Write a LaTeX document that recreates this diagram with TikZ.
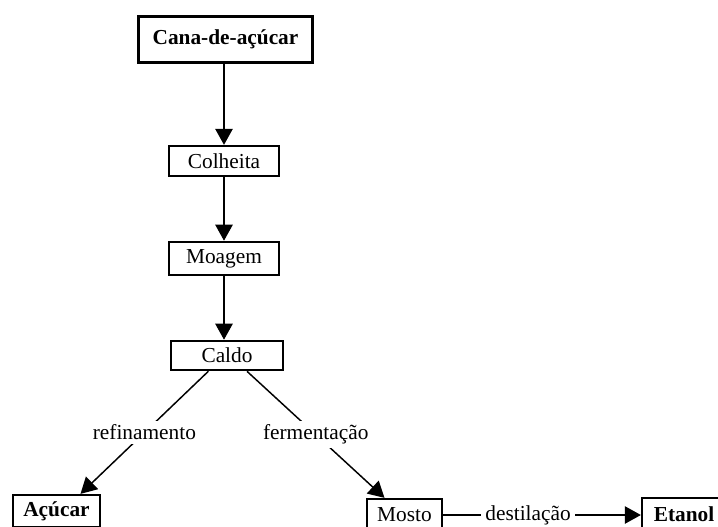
\documentclass[tikz,border=0pt]{standalone}
\usepackage{fontspec}
\setmainfont{Liberation Serif}
\usetikzlibrary{arrows.meta}

\begin{document}
\begin{tikzpicture}[
    x=0.75pt, y=-0.75pt,
    box/.style={draw, line width=1.7pt, inner sep=0pt, minimum height=22.5pt, font=\fontsize{16}{19}\selectfont},
    endbox/.style={box, font=\fontsize{16}{19}\selectfont\bfseries},
    arr/.style={-{Triangle[length=12pt, width=13pt]}, line width=1.1pt},
    lbl/.style={fill=white, inner sep=3pt, font=\fontsize{16}{19}\selectfont},
]
\clip (0,0) rectangle (718,526);
\fill[white] (0,0) rectangle (718,526);

\node[endbox, line width=2.2pt, minimum width=130pt, minimum height=35pt] (cana) at (225.5,39.5) {Cana-de-açúcar};
\node[box, minimum width=82.5pt] (colheita) at (224,161) {Colheita};
\node[box, minimum width=82pt, minimum height=25pt] (moagem) at (224,258.5) {Moagem};
\node[box, minimum width=84pt, minimum height=22pt] (caldo) at (227,355.5) {Caldo};

\node[endbox, minimum width=65pt, minimum height=24pt] (acucar) at (56.5,511) {Açúcar};
\node[box, minimum width=56pt, minimum height=24pt] (mosto) at (404.5,515) {Mosto};
\node[endbox, minimum width=63pt, minimum height=24pt] (etanol) at (684,514) {Etanol};

\draw[arr] (cana.south -| colheita) -- (colheita.north);
\draw[arr] (colheita) -- (moagem);
\draw[arr] (moagem.south) -- (moagem.south |- caldo.north);

\draw[arr] ([xshift=-14pt]caldo.south) -- node[lbl] {refinamento} ([xshift=18pt]acucar.north);
\draw[arr] ([xshift=15pt]caldo.south) -- node[lbl] {fermentação} ([xshift=-15pt]mosto.north);
\draw[arr] (mosto.east) -- node[lbl, pos=0.43] {destilação} (mosto.east -| etanol.west);
\end{tikzpicture}
\end{document}
